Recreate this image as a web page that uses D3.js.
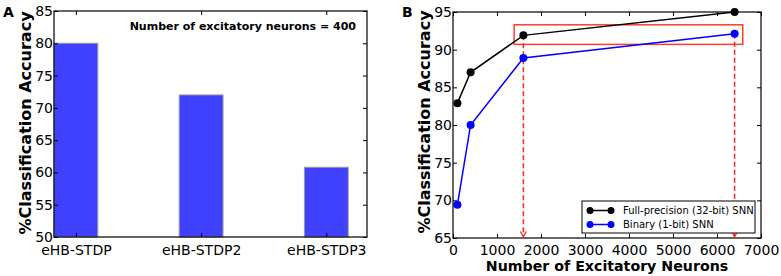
<!DOCTYPE html>
<html>
<head>
<meta charset="utf-8">
<script src="https://cdn.jsdelivr.net/npm/d3@7"></script>
<style>
  body { margin: 0; background: #fff; }
  svg { display: block; font-family: "DejaVu Sans", sans-serif; }
</style>
</head>
<body>
<svg id="chart" width="781" height="276"></svg>
<script>
// panel A
const barCats = ['eHB-STDP', 'eHB-STDP2', 'eHB-STDP3']
const barVals = [80, 72, 60.8]
const barTicks = [50, 55, 60, 65, 70, 75, 80, 85]

// panel B
const neurons = [100, 400, 1600, 6400]
const fullAcc = [82.9, 87.0, 91.9, 95.0]
const binAcc = [69.4, 80.0, 88.9, 92.1]
const xTicksB = [0, 1000, 2000, 3000, 4000, 5000, 6000, 7000]
const yTicksB = [65, 70, 75, 80, 85, 90, 95]
const seriesNames = ['Full-precision (32-bit) SNN', 'Binary (1-bit) SNN']
const highlightBox = {x0: 1390, x1: 6585, y0: 90.7, y1: 93.3}
const arrows = [{x: 1600, from: 91.9, to: 65.2}, {x: 6400, from: 92.1, to: 65.2}]

const svg = d3.select('#chart')
const tickFont = 14
const blue = '#0000ff'

const styleTicks = g => g.selectAll('text')
  .attr('font-size', tickFont).attr('fill', '#000').attr('font-family', 'DejaVu Sans')

// ---------- A ----------
const A = {left: 54, right: 367, top: 11, bottom: 237}
const xA = d3.scaleLinear().domain([0, 2.5]).range([A.left, A.right])
const yA = d3.scaleLinear().domain([50, 85]).range([A.bottom, A.top])
const barW = 0.35

const gA = svg.append('g')
gA.append('g').selectAll('rect').data(barVals).enter().append('rect')
  .attr('x', (d, i) => xA(i))
  .attr('y', d => yA(d))
  .attr('width', xA(barW) - xA(0))
  .attr('height', d => yA(50) - yA(d))
  .attr('fill', '#4040ff')
  .attr('stroke', '#999')
  .attr('stroke-width', 1)

gA.append('g')
  .attr('transform', `translate(${A.left},0)`)
  .call(d3.axisLeft(yA).tickValues(barTicks).tickSize(-4).tickPadding(1))
  .call(g => g.select('.domain').remove())
  .call(styleTicks)
gA.append('g')
  .attr('transform', `translate(${A.right},0)`)
  .call(d3.axisRight(yA).tickValues(barTicks).tickSize(-4).tickFormat(''))
  .call(g => g.select('.domain').remove())

gA.append('g')
  .attr('transform', `translate(0,${A.bottom})`)
  .call(d3.axisBottom(xA).tickValues(barCats.map((c, i) => i + barW / 2))
    .tickFormat((d, i) => barCats[i]).tickSize(-4).tickPadding(8))
  .call(g => g.select('.domain').remove())
  .call(styleTicks)
gA.append('g')
  .attr('transform', `translate(0,${A.top})`)
  .call(d3.axisTop(xA).tickValues(barCats.map((c, i) => i + barW / 2)).tickSize(-4).tickFormat(''))
  .call(g => g.select('.domain').remove())

gA.append('rect')
  .attr('x', A.left).attr('y', A.top)
  .attr('width', A.right - A.left).attr('height', A.bottom - A.top)
  .attr('fill', 'none').attr('stroke', '#000').attr('stroke-width', 1.2)

gA.append('text')
  .attr('x', 356).attr('y', 29.5)
  .attr('text-anchor', 'end')
  .attr('font-weight', 'bold').attr('font-size', 11)
  .text('Number of excitatory neurons = 400')

gA.append('text')
  .attr('transform', `translate(31,${(A.top + A.bottom) / 2 - 1}) rotate(-90)`)
  .attr('text-anchor', 'middle')
  .attr('font-weight', 'bold').attr('font-size', 16)
  .text('%Classification Accuracy')

gA.append('text').attr('x', 3).attr('y', 16.5)
  .attr('font-weight', 'bold').attr('font-size', 14).text('A')

// ---------- B ----------
const B = {left: 453, right: 761, top: 12, bottom: 238}
const xB = d3.scaleLinear().domain([0, 7000]).range([B.left, B.right])
const yB = d3.scaleLinear().domain([65, 95]).range([B.bottom, B.top])
const gB = svg.append('g')

gB.append('g')
  .attr('transform', `translate(${B.left},0)`)
  .call(d3.axisLeft(yB).tickValues(yTicksB).tickSize(-4).tickPadding(1))
  .call(g => g.select('.domain').remove())
  .call(styleTicks)
gB.append('g')
  .attr('transform', `translate(${B.right},0)`)
  .call(d3.axisRight(yB).tickValues(yTicksB).tickSize(-4).tickFormat(''))
  .call(g => g.select('.domain').remove())
gB.append('g')
  .attr('transform', `translate(0,${B.bottom})`)
  .call(d3.axisBottom(xB).tickValues(xTicksB).tickSize(-4).tickPadding(7).tickFormat(d3.format('d')))
  .call(g => g.select('.domain').remove())
  .call(styleTicks)
gB.append('g')
  .attr('transform', `translate(0,${B.top})`)
  .call(d3.axisTop(xB).tickValues(xTicksB).tickSize(-4).tickFormat(''))
  .call(g => g.select('.domain').remove())

// highlight box
gB.append('rect')
  .attr('x', xB(highlightBox.x0)).attr('y', yB(highlightBox.y1))
  .attr('width', xB(highlightBox.x1) - xB(highlightBox.x0))
  .attr('height', yB(highlightBox.y0) - yB(highlightBox.y1))
  .attr('fill', 'none').attr('stroke', '#ff3b30').attr('stroke-width', 1.5)

// dashed arrows
arrows.forEach(a => {
  const x = xB(a.x)
  gB.append('line')
    .attr('x1', x).attr('x2', x)
    .attr('y1', yB(a.from)).attr('y2', yB(a.to))
    .attr('stroke', '#ff2020').attr('stroke-width', 1.5)
    .attr('stroke-dasharray', '5,3')
  gB.append('path')
    .attr('d', `M${x - 3},${yB(a.to) - 5}L${x},${yB(a.to)}L${x + 3},${yB(a.to) - 5}`)
    .attr('fill', 'none').attr('stroke', '#ff2020').attr('stroke-width', 1.3)
})

const line = d3.line().x(d => xB(d[0])).y(d => yB(d[1]))
const series = [
  {name: seriesNames[0], vals: fullAcc, color: '#000'},
  {name: seriesNames[1], vals: binAcc, color: blue}
]
series.forEach(s => {
  const pts = neurons.map((n, i) => [n, s.vals[i]])
  gB.append('path').datum(pts)
    .attr('d', line).attr('fill', 'none')
    .attr('stroke', s.color).attr('stroke-width', 1.5)
  gB.append('g').selectAll('circle').data(pts).enter().append('circle')
    .attr('cx', d => xB(d[0])).attr('cy', d => yB(d[1]))
    .attr('r', 4).attr('fill', s.color)
})

gB.append('rect')
  .attr('x', B.left).attr('y', B.top)
  .attr('width', B.right - B.left).attr('height', B.bottom - B.top)
  .attr('fill', 'none').attr('stroke', '#000').attr('stroke-width', 1.2)

// legend
const leg = gB.append('g').attr('transform', 'translate(582,201)')
leg.append('rect').attr('width', 173).attr('height', 32)
  .attr('fill', '#fff').attr('stroke', '#000').attr('stroke-width', 1)
series.forEach((s, i) => {
  const y = 9.5 + i * 14
  leg.append('line').attr('x1', 8).attr('x2', 29).attr('y1', y).attr('y2', y)
    .attr('stroke', s.color).attr('stroke-width', 1.5)
  leg.append('circle').attr('cx', 8).attr('cy', y).attr('r', 3.5).attr('fill', s.color)
  leg.append('circle').attr('cx', 29).attr('cy', y).attr('r', 3.5).attr('fill', s.color)
  leg.append('text').attr('x', 41).attr('y', y + 3.5)
    .attr('font-size', 10).text(s.name)
})

gB.append('text')
  .attr('transform', `translate(430,${(B.top + B.bottom) / 2 - 3}) rotate(-90)`)
  .attr('text-anchor', 'middle')
  .attr('font-weight', 'bold').attr('font-size', 16)
  .text('%Classification Accuracy')

gB.append('text')
  .attr('x', 607).attr('y', 271)
  .attr('text-anchor', 'middle')
  .attr('font-weight', 'bold').attr('font-size', 14.2)
  .text('Number of Excitatory Neurons')

gB.append('text').attr('x', 402).attr('y', 16.5)
  .attr('font-weight', 'bold').attr('font-size', 14).text('B')
</script>
</body>
</html>
